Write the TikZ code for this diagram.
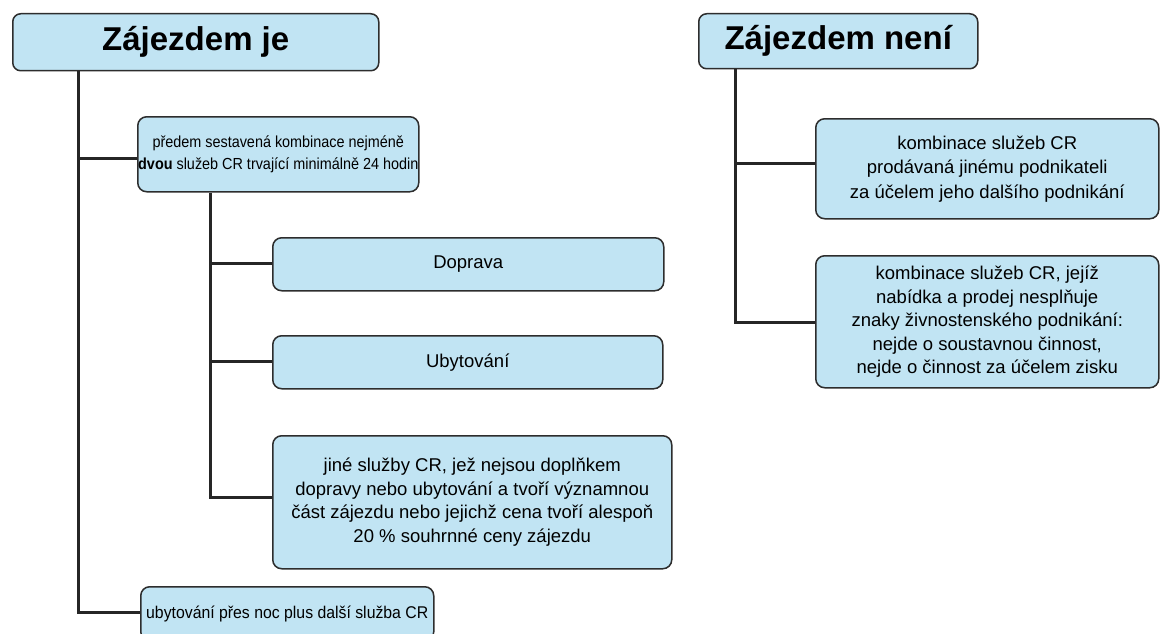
\documentclass[tikz,border=0pt]{standalone}
\usepackage{fontspec}
\setmainfont{Liberation Sans}
\definecolor{boxfill}{RGB}{193,228,243}
\definecolor{boxline}{RGB}{45,45,45}
\begin{document}
\begin{tikzpicture}[x=1pt,y=-1pt,
  box/.style={draw=boxline, line width=1.5pt, fill=boxfill, rounded corners=9pt,
    anchor=north west, inner sep=0pt, align=center,
    font=\fontsize{18.5}{23.5}\selectfont},
  title/.style={box, font=\fontsize{33}{38}\selectfont\bfseries, rounded corners=8pt},
  conn/.style={line width=3pt, draw=black!85}]
\clip (0,0) rectangle (1160,634);
\fill[white] (0,0) rectangle (1160,634);
% left side
\node[title, minimum width=366pt, minimum height=57pt] (t1) at (12,13) {Zájezdem je};
\node[box, minimum width=281pt, minimum height=75pt] (b2) at (137,116)
  {\scalebox{0.9}[1]{\fontsize{16}{21}\selectfont\begin{tabular}{@{}c@{}}předem sestavená kombinace nejméně\\[1pt]\textbf{dvou} služeb CR trvající minimálně 24 hodin\end{tabular}}};
\node[box, minimum width=391pt, minimum height=53pt] (d) at (272,237) {Doprava};
\node[box, minimum width=390pt, minimum height=53pt] (u) at (272,335) {Ubytování};
\node[box, minimum width=399pt, minimum height=133pt] (j) at (272,435)
  {jiné služby CR, jež nejsou doplňkem\\dopravy nebo ubytování a tvoří významnou\\část zájezdu nebo jejichž cena tvoří alespoň\\20 \% souhrnné ceny zájezdu};
\node[box, minimum width=293pt, minimum height=54pt] (bot) at (140,586)
  {\scalebox{0.93}[1]{\fontsize{17}{21}\selectfont ubytování přes noc plus další služba CR}};
% right side
\node[title, minimum width=279pt, minimum height=55pt] (t2) at (698,13) {Zájezdem není};
\node[box, minimum width=343pt, minimum height=100pt, font=\fontsize{18.5}{24.5}\selectfont] (a) at (815,118)
  {kombinace služeb CR\\prodávaná jinému podnikateli\\za účelem jeho dalšího podnikání};
\node[box, minimum width=343pt, minimum height=132pt] (b) at (815,255)
  {kombinace služeb CR, jejíž\\nabídka a prodej nesplňuje\\znaky živnostenského podnikání:\\nejde o soustavnou činnost,\\nejde o činnost za účelem zisku};
% junction coordinates
\coordinate (k1) at (78,158);
\coordinate (k2) at (78,612);
\coordinate (m1) at (210,263);
\coordinate (m2) at (210,361);
\coordinate (m3) at (210,497);
\coordinate (r1) at (735,163);
\coordinate (r2) at (735,322);
% connectors
\draw[conn] (t1.south -| k1) -- (k2) -- (bot.west |- k2);
\draw[conn] (k1) -- (b2.west |- k1);
\draw[conn] (b2.south -| m1) -- (m3) -- (j.west |- m3);
\draw[conn] (m1) -- (d.west |- m1);
\draw[conn] (m2) -- (u.west |- m2);
\draw[conn] (t2.south -| r1) -- (r2) -- (b.west |- r2);
\draw[conn] (r1) -- (a.west |- r1);
\end{tikzpicture}
\end{document}
